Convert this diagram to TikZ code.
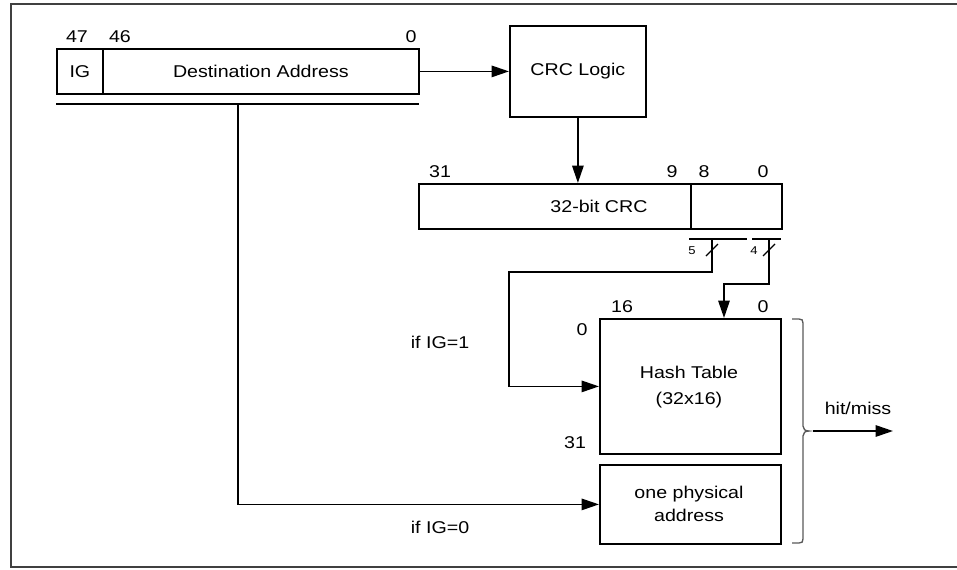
\documentclass[tikz,border=0pt]{standalone}
\usepackage{fontspec}
\setmainfont{Liberation Sans}[FakeStretch=1.15]
\usetikzlibrary{arrows.meta}
\begin{document}
\begin{tikzpicture}[x=0.75pt,y=-0.75pt,
  font=\fontsize{12.8pt}{15pt}\selectfont,
  box/.style={draw,line width=1.35pt,inner sep=0pt,anchor=north west,align=center},
  lbl/.style={inner sep=0pt},
  small/.style={inner sep=0pt,font=\fontsize{8.5pt}{10pt}\selectfont},
  wire/.style={line width=1.35pt},
  arr/.style={wire,-{Triangle[length=13pt,width=8.5pt]}},
  frame/.style={line width=1.2pt,draw=black!75}]
\useasboundingbox (0,0) rectangle (957,569);
\clip (0,0) rectangle (957,569);
\draw[frame] (970,4) -- (11,4) -- (11,567) -- (970,567);

% destination address register
\node[box,minimum width=34.5pt,minimum height=33.75pt] (ig) at (56,48) {IG};
\node[box,minimum width=237pt,minimum height=33.75pt] (dest) at (102,48) {Destination Address};
\node[lbl] (n47) at (77,37) {47};
\node[lbl] (n46) at (120,37) {46};
\node[lbl] (n0a) at (411,37) {0};

% CRC logic
\node[box,minimum width=102pt,minimum height=68.25pt] (crc) at (509,25) {CRC Logic};

% 32-bit CRC register
\node[box,minimum width=204pt,minimum height=33.75pt] (crchi) at (418,183) {};
\node[box,minimum width=68.25pt,minimum height=33.75pt] (crclo) at (690,183) {};
\node[lbl] (crctxt) at (599,206) {32-bit CRC};
\node[lbl] (n31a) at (440,172) {31};
\node[lbl] (n9) at (672,172) {9};
\node[lbl] (n8) at (704,172) {8};
\node[lbl] (n0b) at (763,172) {0};

% hash table and physical address
\node[box,minimum width=135.75pt,minimum height=101.25pt] (hash) at (599,318) {};
\node[lbl,align=center] (hashtxt) at (689,387) {Hash Table\\[4pt](32x16)};
\node[box,minimum width=135.75pt,minimum height=59.25pt] (phys) at (599,464) {};
\node[lbl,align=center] (phystxt) at (689,504) {one physical\\[2pt]address};
\node[lbl] (n16) at (622,307) {16};
\node[lbl] (n0c) at (763,307) {0};
\node[lbl] (n0d) at (582,330) {0};
\node[lbl] (n31b) at (575,443) {31};

\node[lbl] (if1) at (440,342) {if IG=1};
\node[lbl] (if0) at (440,527) {if IG=0};

% connectors
\draw[arr] (dest.east) -- (crc.west);
\draw[arr] (crc.south) -- (crc.south |- crchi.north);

\coordinate (busL) at (56,104);
\coordinate (busR) at (419,104);
\draw[wire] (busL) -- (busR);
\coordinate (tap) at (238,104);
\draw[arr] (tap) |- (phys.west);

\coordinate (b5L) at (689,239);
\coordinate (b5R) at (747,239);
\coordinate (b4L) at (752,239);
\coordinate (b4R) at (781,239);
\draw[wire] (b5L) -- (b5R);
\draw[wire] (b4L) -- (b4R);
\coordinate (t5) at (712,239);
\coordinate (t4) at (769,239);
\coordinate (k1) at (509,272);
\coordinate (k2) at (724,284);
\draw[arr] (t5) |- (k1) |- (hash.west);
\draw[arr] (t4) |- (k2) -- (k2 |- hash.north);
\draw[line width=0.9pt] (706,256) -- (718,244);
\draw[line width=0.9pt] (763,256) -- (775,244);
\node[small] (w5) at (692,251) {5};
\node[small] (w4) at (754,251) {4};

% brace and output
\coordinate (brT) at (792,319);
\coordinate (brB) at (792,543);
\coordinate (brtip) at (809,431);
\draw[line width=1pt,draw=black!65]
  (brT) -- (799,319) .. controls (802,319) and (803,320) .. (803,323)
  -- (803,426) .. controls (803,429) and (805,431) .. (brtip)
  .. controls (805,431) and (803,433) .. (803,436)
  -- (803,539) .. controls (803,542) and (802,543) .. (799,543) -- (brB);
\coordinate (outS) at (813,431);
\coordinate (outend) at (893,431);
\draw[arr] (outS) -- (outend);
\node[lbl] (hm) at (858,408) {hit/miss};
\end{tikzpicture}
\end{document}
